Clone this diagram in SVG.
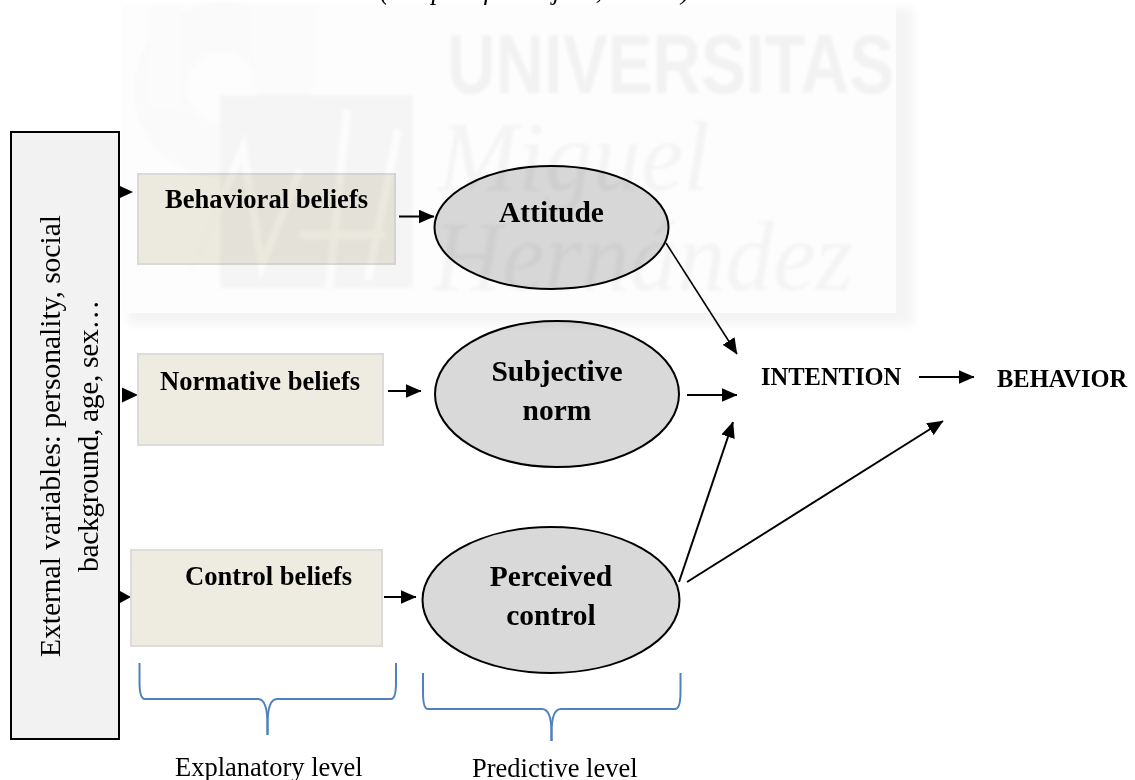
<svg xmlns="http://www.w3.org/2000/svg" width="1135" height="780" viewBox="0 0 1135 780">
<style>
text{font-family:"Liberation Serif","Times New Roman",serif;fill:#000}
.b{font-weight:bold;font-size:29.5px;text-anchor:middle}
.s{font-weight:bold;font-size:26.6px}
.u{font-weight:bold;font-size:24.5px}
.v{font-size:29.6px}
.l{font-size:26.5px}
.box{fill:#eeece1;stroke:#dcdcd8;stroke-width:2}
.el{fill:#d9d9d9;stroke:#000;stroke-width:2}
.c{fill:none;stroke:#000;stroke-width:2}
.br{fill:none;stroke:#4f81bd;stroke-width:2}
.wm{font-style:italic;font-size:100px;fill:#f4f4f4}
</style>
<defs>
<marker id="a" markerWidth="16" markerHeight="14" refX="15.5" refY="7" orient="auto" markerUnits="userSpaceOnUse"><path d="M0 0L16 7L0 14Z" fill="#000"/></marker>
<filter id="blur" x="-5%" y="-5%" width="110%" height="110%"><feGaussianBlur stdDeviation="1.6"/></filter>
<filter id="blur2" x="-5%" y="-5%" width="110%" height="110%"><feGaussianBlur stdDeviation="4"/></filter>
</defs>
<rect width="1135" height="780" fill="#fff"/>
<text class="l" y="-1.500"><tspan x="380" font-style="italic">(Adapted from A</tspan><tspan x="553" font-style="italic">jzen,</tspan><tspan x="628" font-style="italic">2002)</tspan></text>
<g id="connectors">
<path class="c" d="M399 216.500H434" marker-end="url(#a)"/>
<path class="c" d="M388 391H421" marker-end="url(#a)"/>
<path class="c" d="M384 597H416" marker-end="url(#a)"/>
<path class="c" d="M666 243L737 354" marker-end="url(#a)" style="stroke-width:1.6"/>
<path class="c" d="M687 395H737" marker-end="url(#a)"/>
<path class="c" d="M679 582L733 422" marker-end="url(#a)"/>
<path class="c" d="M687 582L943 421" marker-end="url(#a)"/>
<path class="c" d="M919 377H974" marker-end="url(#a)"/>
<path d="M120 186l13 6l-13 6Z M122 387.500l16 7.500l-16 7.500Z M120 591l11 6l-11 6Z"/>
</g>
<g id="external"><rect x="11" y="132" width="108" height="607" fill="#f2f2f2" stroke="#000" stroke-width="2"/>
<text class="v" transform="translate(60 657) rotate(-90)" textLength="442">External variables: personality, social</text>
<text class="v" transform="translate(98 572) rotate(-90)" textLength="272">background, age, sex…</text></g>
<g id="behavioral"><rect class="box" x="138" y="174" width="257" height="90"/><text class="s" x="165" y="208">Behavioral beliefs</text></g>
<g id="normative"><rect class="box" x="138" y="354" width="245" height="91"/><text class="s" x="160" y="390">Normative beliefs</text></g>
<g id="control"><rect class="box" x="131" y="550" width="251" height="96"/><text class="s" x="185" y="585">Control beliefs</text></g>
<g id="attitude"><ellipse class="el" cx="551.500" cy="227.500" rx="117" ry="61.500"/><text class="b" x="551.500" y="222">Attitude</text></g>
<g id="norm"><ellipse class="el" cx="557" cy="394" rx="122" ry="73"/><text class="b" x="557" y="381">Subjective</text><text class="b" x="557" y="420">norm</text></g>
<g id="perceived"><ellipse class="el" cx="551" cy="600" rx="128.500" ry="73"/><text class="b" x="551" y="586">Perceived</text><text class="b" x="551" y="625">control</text></g>
<g id="intention"><text class="u" x="761" y="385">INTENTION</text></g>
<g id="behavior"><text class="u" x="997" y="387">BEHAVIOR</text></g>
<g id="brackets">
<path class="br" d="M139.500 663V682Q139.500 699 145 699H258Q267.500 699 267.500 725V735"/>
<path class="br" d="M396 663V682Q396 699 391 699H277Q267.500 699 267.500 725V735"/>
<path class="br" d="M423 673V692Q423 709 428 709H542Q551.500 709 551.500 733V741"/>
<path class="br" d="M680.500 673V692Q680.500 709 675 709H561Q551.500 709 551.500 733V741"/>
</g>
<text class="l" x="175" y="776">Explanatory level</text>
<text class="l" x="472" y="777">Predictive level</text>
<g id="watermark" style="mix-blend-mode:multiply">
<rect x="128" y="8" width="785" height="317" fill="#f4f4f4" filter="url(#blur2)"/>
<rect x="122" y="5" width="774" height="308" fill="#fdfdfd"/>
<g filter="url(#blur)">
<circle cx="222" cy="90" r="88" fill="#fafafa"/>
<circle cx="222" cy="87" r="36" fill="#fdfdfd"/>
<rect x="220" y="95" width="193" height="193" fill="#f5f5f5"/>
<rect x="150" y="5" width="30" height="100" fill="#fbfbfb"/>
<rect x="255" y="5" width="60" height="85" fill="#fbfbfb"/>
<path d="M190 275L243 148L262 265L300 170M347 110L328 300M398 130L368 280M300 235H385" fill="none" stroke="#fcfcfc" stroke-width="8"/>
<text x="447" y="93" font-size="84" font-weight="bold" style="font-family:'Liberation Sans',sans-serif;fill:#f2f2f2" textLength="447" lengthAdjust="spacingAndGlyphs">UNIVERSITAS</text>
<text class="wm" x="438" y="190" textLength="272" lengthAdjust="spacingAndGlyphs">Miguel</text>
<text class="wm" x="433" y="290" textLength="420" lengthAdjust="spacingAndGlyphs">Hernández</text>
</g>
</g>
</svg>
